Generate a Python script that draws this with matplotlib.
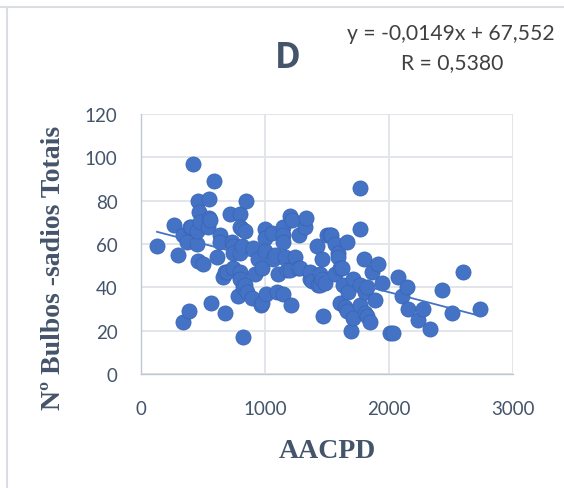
import matplotlib
matplotlib.use("Agg")
import matplotlib.pyplot as plt
import numpy as np

# AACPD vs. number of healthy bulbs
aacpd = [129, 266, 298, 339, 387, 339, 371, 395, 403, 419, 452, 452, 460, 460, 468, 476,
         500, 548, 548, 540, 556, 565, 589, 613, 637, 637, 661, 677, 677, 694, 718, 734,
         742, 742, 742, 782, 798, 798, 798, 798, 798, 815, 815, 823, 823, 839, 839, 847,
         855, 895, 903, 919, 944, 968, 976, 976, 1000, 1000, 1000, 1008, 1056, 1064, 1081,
         1097, 1105, 1145, 1145, 1145, 1145, 1161, 1177, 1202, 1202, 1210, 1218, 1242,
         1266, 1274, 1286, 1323, 1331, 1363, 1363, 1379, 1419, 1427, 1444, 1444, 1460,
         1460, 1468, 1484, 1500, 1524, 1532, 1565, 1565, 1589, 1589, 1605, 1605, 1621,
         1629, 1645, 1661, 1661, 1669, 1694, 1710, 1710, 1766, 1766, 1766, 1766, 1798,
         1806, 1806, 1823, 1823, 1847, 1863, 1887, 1911, 1944, 2008, 2032, 2073, 2105,
         2145, 2153, 2234, 2274, 2331, 2427, 2508, 2597, 2734]
bulbos = [59, 69, 55, 24, 29, 64, 61, 68, 68, 97, 60, 66, 52, 80, 75, 70,
          51, 81, 72, 68, 71, 33, 89, 54, 64, 61, 45, 28, 47, 47, 74, 61,
          59, 56, 49, 36, 74, 68, 56, 47, 44, 67, 59, 17, 40, 66, 41, 80,
          38, 35, 58, 46, 53, 32, 49, 33, 67, 63, 57, 37, 65, 53, 55,
          38, 46, 68, 64, 61, 37, 54, 48, 73, 48, 32, 71, 54,
          49, 64, 49, 68, 72, 44, 47, 43, 59, 41, 41, 46, 44,
          53, 27, 42, 64, 64, 64, 60, 46, 56, 54, 49, 33, 49,
          41, 31, 61, 29, 38, 20, 44, 26, 86, 67, 41, 32, 53,
          38, 28, 40, 27, 24, 47, 34, 51, 42, 19, 19, 45, 36,
          40, 30, 25, 30, 21, 39, 28, 47, 30]

slope = -0.0149
intercept = 67.552
r_value = 0.5380

x_ticks = [0, 1000, 2000, 3000]
y_ticks = [0, 20, 40, 60, 80, 100, 120]

blue = "#4472C4"
text_col = "#44546A"
grid_col = "#E2E5EA"

fig = plt.figure(figsize=(5.64, 4.89), dpi=100)
fig.patch.set_facecolor("white")

# light outer frame lines
fig.add_artist(plt.Line2D([0, 1], [1 - 8 / 489, 1 - 8 / 489], color="#DADDE2", lw=1.5,
                          transform=fig.transFigure))
fig.add_artist(plt.Line2D([7 / 564, 7 / 564], [0, 1 - 8 / 489], color="#DADDE2", lw=1.5,
                          transform=fig.transFigure))

ax = fig.add_axes([141 / 564, 1 - 375 / 489, 372 / 564, 260 / 489])
ax.set_xlim(0, 3000)
ax.set_ylim(0, 120)
ax.set_xticks(x_ticks)
ax.set_yticks(y_ticks)
ax.grid(True, color=grid_col, lw=1.4)
ax.set_axisbelow(True)
for side in ("top", "right"):
    ax.spines[side].set_visible(False)
for side in ("left", "bottom"):
    ax.spines[side].set_color("#BFC7D5")
    ax.spines[side].set_linewidth(1.0)
ax.tick_params(length=0, labelsize=13.5, labelcolor=text_col)
ax.tick_params(axis="x", pad=19)
ax.tick_params(axis="y", pad=17)
for lab in ax.get_xticklabels() + ax.get_yticklabels():
    lab.set_fontfamily("Lato")

ax.scatter(aacpd, bulbos, s=118, color=blue, edgecolors="#3A66B8", linewidths=0.6,
           zorder=3)

xs = np.array([min(aacpd), max(aacpd)])
ax.plot(xs, slope * xs + intercept, color=blue, lw=1.3, zorder=4)

ax.set_xlabel("AACPD", fontsize=20, fontweight="bold", family="Liberation Serif",
              color=text_col, labelpad=15)
ax.set_ylabel("Nº Bulbos -sadios Totais", fontsize=20, fontweight="bold",
              family="Liberation Serif", color=text_col)
ax.yaxis.set_label_coords(-0.202, 0.41)

fig.text(288 / 564, 1 - 59 / 489, "D", fontsize=25, fontweight="bold", family="Open Sans",
         color=text_col, ha="center", va="center")
fig.text(451 / 564, 1 - 34 / 489, "y = -0,0149x + 67,552", fontsize=15.2, family="Lato",
         color="#404040", ha="center", va="center")
fig.text(452 / 564, 1 - 63 / 489, "R = 0,5380", fontsize=15.2, family="Lato",
         color="#404040", ha="center", va="center")

fig.savefig("out.png", dpi=100, facecolor="white")
